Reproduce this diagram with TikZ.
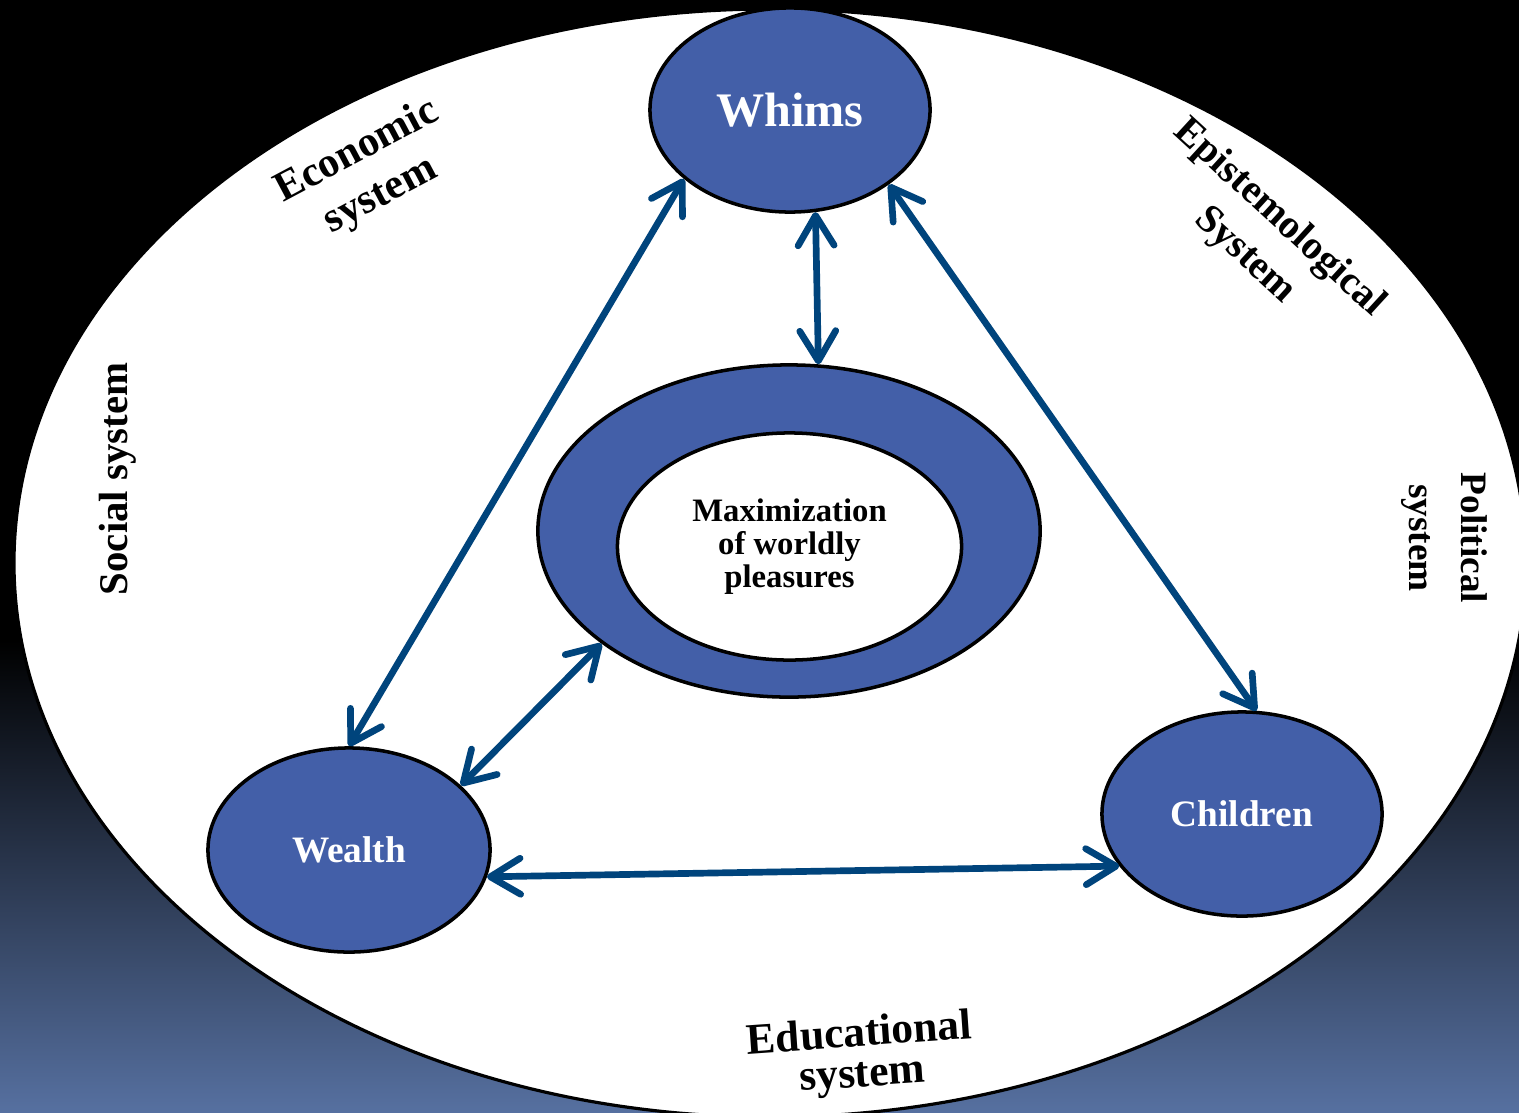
\documentclass[tikz,border=0pt]{standalone}
\usepackage{fontspec}
\setmainfont{Liberation Serif}
\usetikzlibrary{shapes.geometric, arrows.meta}
\definecolor{nodeblue}{RGB}{67, 95, 168}
\definecolor{linkblue}{RGB}{0, 68, 124}
\definecolor{bgblue}{RGB}{86, 112, 160}

\begin{document}
\begin{tikzpicture}[x=0.01cm, y=-0.01cm,
		bubble/.style={ellipse, draw=black, line width=1pt, fill=nodeblue, text=white, inner sep=0pt},
		link/.style={{Straight Barb[length=3mm, width=3.6mm, round]}-{Straight Barb[length=3mm, width=3.6mm, round]}, draw=linkblue, line width=1.9pt},
		syslabel/.style={align=center, text=black, inner sep=0pt}]
			
			% background
			\useasboundingbox (0,0) rectangle (1519,1112);
			\fill[black] (0,0) rectangle (1519,1112);
			\shade[top color=black, bottom color=bgblue] (0,640) rectangle (1519,1112);
			
			% the surrounding systems
			\begin{scope}
				\clip (0,0) rectangle (1519,1112);
				\filldraw[fill=white, draw=black, line width=0.9pt] (770,563) ellipse [x radius=756, y radius=554];
			\end{scope}
			
			\node[syslabel, rotate=28, font=\bfseries\fontsize{12}{14.2}\selectfont] (economic) at (369,174) {Economic\\system};
			\node[syslabel, rotate=-42.5, font=\bfseries\fontsize{11.4}{14.4}\selectfont] (episteme) at (1262,237) {Epistemological\\System};
			\node[syslabel, rotate=90, font=\bfseries\fontsize{11.6}{14}\selectfont] (social) at (118,479) {Social system};
			\node[syslabel, rotate=-90, font=\bfseries\fontsize{10.6}{14.8}\selectfont] (political) at (1444,538) {Political\\system};
			\node[syslabel, rotate=4, font=\bfseries\fontsize{12.4}{11.5}\selectfont] (educational) at (861,1056) {Educational\\system};
			
			% core: ring round the inner ellipse
			\node[bubble, minimum width=50.2mm, minimum height=33.2mm] (ring) at (789,531) {};
			\node[bubble, fill=white, text=black, align=center, minimum width=34.4mm, minimum height=22.7mm, font=\bfseries\fontsize{9.3}{9.3}\selectfont] (pleasures) at (789.5,546.5) {Maximization\\of worldly\\pleasures};
			
			% the three drives
			\node[bubble, minimum width=28mm, minimum height=20.4mm, font=\bfseries\fontsize{13.7}{16}\selectfont] (whims) at (790,110) {Whims};
			\node[bubble, minimum width=28.2mm, minimum height=20.4mm, font=\bfseries\fontsize{10.6}{12}\selectfont] (wealth) at (349,850) {Wealth};
			\node[bubble, minimum width=28mm, minimum height=20.4mm, font=\bfseries\fontsize{10.6}{12}\selectfont] (children) at (1242,814) {Children};
			
			% links
			\draw[link] (whims.-147.5) -- (wealth.90);
			\draw[link] (whims.-76.6) -- (ring.80);
			\draw[link] (whims.-37) -- (children.82.6);
			\draw[link] (ring.-149.5) -- (wealth.30);
			\draw[link] (wealth.-11.5) -- (children.-157.7);
			
		\end{tikzpicture}
\end{document}
